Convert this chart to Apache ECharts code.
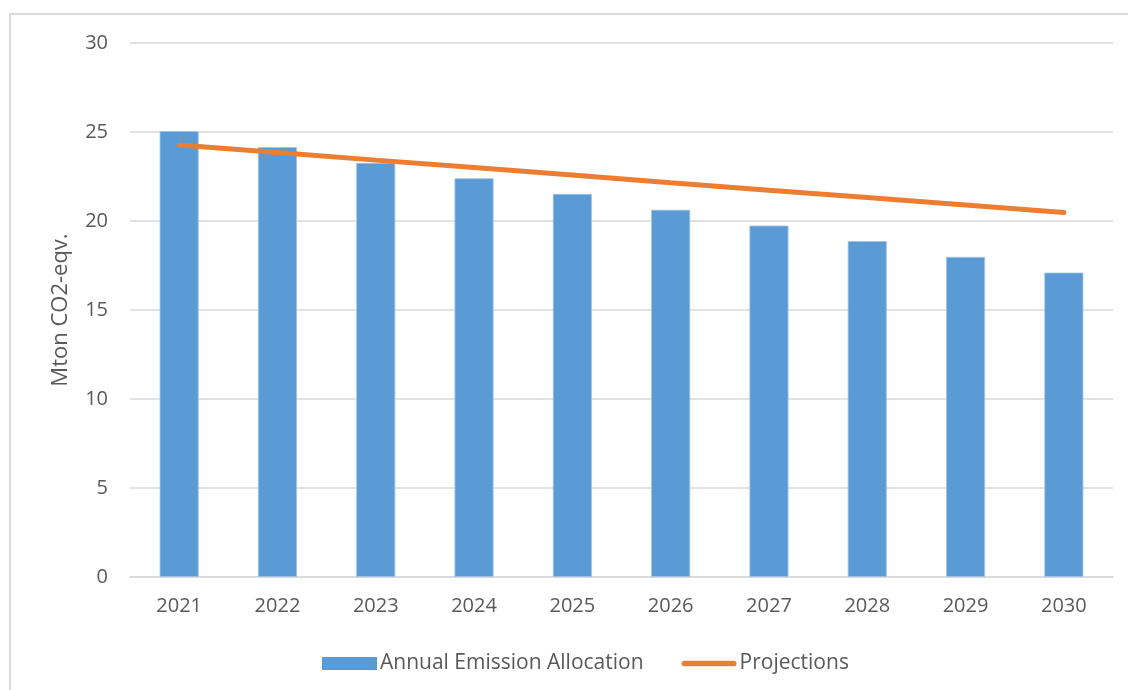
<!DOCTYPE html>
<html>
<head>
<meta charset="utf-8">
<script src="https://cdn.jsdelivr.net/npm/echarts@6/dist/echarts.min.js"></script>
<style>
html,body{margin:0;padding:0;background:#fff;}
#chart{width:1128px;height:690px;}
</style>
</head>
<body>
<div id="chart"></div>
<script>
const categories = ['2021','2022','2023','2024','2025','2026','2027','2028','2029','2030'];
const allocation = [25.05, 24.15, 23.26, 22.4, 21.52, 20.63, 19.74, 18.87, 17.98, 17.1];
const projections = [24.27, 23.85, 23.42, 23.0, 22.58, 22.15, 21.73, 21.32, 20.9, 20.48];
const yTicks = [0, 5, 10, 15, 20, 25, 30];

const FONT = 'Open Sans';
const chart = echarts.init(document.getElementById('chart'), null, {renderer: 'canvas'});
chart.setOption({
  backgroundColor: '#ffffff',
  animation: false,
  textStyle: {fontFamily: FONT},
  graphic: [{
    type: 'rect',
    shape: {x: 10, y: 14, width: 1140, height: 700},
    style: {fill: 'none', stroke: '#d9d9d9', lineWidth: 2},
    silent: true
  }],
  grid: {left: 130, right: 15, top: 43, bottom: 113, containLabel: false},
  legend: {
    top: 648,
    left: 317,
    itemGap: 38,
    itemWidth: 55,
    itemHeight: 13,
    textStyle: {fontFamily: FONT, fontSize: 21, color: '#595959', padding: [0, 0, 0, -2]},
    data: [
      {name: 'Annual Emission Allocation', icon: 'rect', itemStyle: {borderWidth: 0}},
      {name: 'Projections', icon: 'path://M3,0 L55,0 A3,3 0 0 1 55,6 L3,6 A3,3 0 0 1 3,0 Z'}
    ]
  },
  xAxis: {
    type: 'category',
    data: categories,
    axisLine: {show: true, lineStyle: {color: '#d9d9d9', width: 1.5}},
    axisTick: {show: false},
    axisLabel: {color: '#595959', fontSize: 20, margin: 19, fontFamily: FONT}
  },
  yAxis: {
    type: 'value',
    min: yTicks[0],
    max: yTicks[yTicks.length - 1],
    interval: 5,
    name: 'Mton CO2-eqv.',
    nameLocation: 'middle',
    nameGap: 58,
    nameTextStyle: {color: '#595959', fontSize: 22, fontFamily: FONT},
    axisLine: {show: false},
    axisTick: {show: false},
    axisLabel: {color: '#595959', fontSize: 20, margin: 22, fontFamily: FONT},
    splitLine: {lineStyle: {color: '#d9d9d9', width: 1.5}}
  },
  series: [
    {
      name: 'Annual Emission Allocation',
      type: 'bar',
      data: allocation,
      barWidth: 39,
      itemStyle: {color: '#5b9bd5', borderColor: '#9dc3e6', borderWidth: 0.8}
    },
    {
      name: 'Projections',
      type: 'line',
      data: projections,
      symbol: 'none',
      lineStyle: {color: '#ed7d31', width: 5, cap: 'round'},
      itemStyle: {color: '#ed7d31'}
    }
  ]
});
</script>
</body>
</html>
